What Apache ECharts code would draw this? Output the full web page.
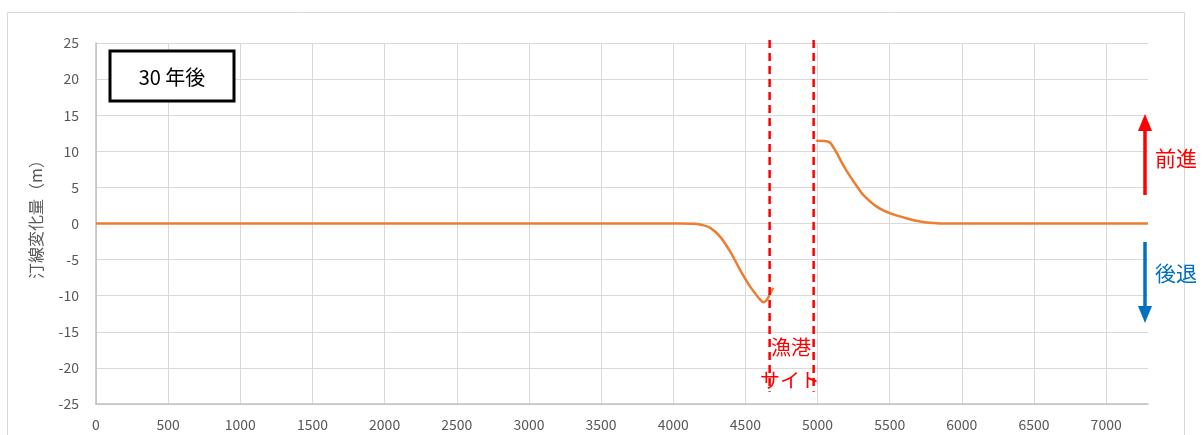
<!DOCTYPE html>
<html>
<head>
<meta charset="utf-8">
<script src="https://cdn.jsdelivr.net/npm/echarts@6/dist/echarts.min.js"></script>
<style>
  html, body { margin: 0; padding: 0; background: #ffffff; }
  #chart { width: 1202px; height: 435px; }
</style>
</head>
<body>
<div id="chart"></div>
<script>
// Shoreline change after 30 years (distance along coast in m vs. change in m).
// West side of the fishing port
const westX = [0, 4050, 4150, 4200, 4257, 4326, 4395, 4464, 4533, 4580, 4603, 4616, 4627, 4640, 4654, 4692];
const westY = [0, 0, -0.05, -0.2, -0.6, -1.85, -3.9, -6.45, -8.75, -10.0, -10.55, -10.8, -10.9, -10.75, -10.4, -8.9];
// East side of the fishing port
const eastX = [4991, 5050, 5070, 5089, 5105, 5120, 5135, 5180, 5228, 5275, 5320, 5413, 5505, 5621, 5720, 5800, 5900, 7290];
const eastY = [11.45, 11.42, 11.35, 11.15, 10.7, 10.2, 9.7, 8.0, 6.45, 5.1, 3.9, 2.3, 1.4, 0.7, 0.25, 0.08, 0, 0];

// Port site boundaries (x) and the vertical extent of their dashed markers (y)
const portBounds = [4668, 4973];
const markerTop = 25.4;
const markerBottom = -23.3;

// Axis settings
const xMin = 0, xMax = 7290, xStep = 500;
const yMin = -25, yMax = 25, yStep = 5;

const FONT = '"Noto Sans CJK JP", "Noto Sans", sans-serif';

const pairs = (xs, ys) => xs.map((x, i) => [x, ys[i]]);

const shoreStyle = {
  type: 'line',
  symbol: 'none',
  smooth: 0.3,
  z: 4,
  silent: true,
  lineStyle: { color: '#ED7D31', width: 2.5 }
};

const markerSeries = portBounds.map(x => ({
  type: 'line',
  data: [[x, markerTop], [x, markerBottom]],
  clip: false,
  symbol: 'none',
  silent: true,
  z: 5,
  lineStyle: { color: '#FF0000', width: 2.5, type: [8, 5] }
}));

const chart = echarts.init(document.getElementById('chart'), null, { renderer: 'canvas' });

chart.setOption({
  backgroundColor: '#ffffff',
  animation: false,
  textStyle: { fontFamily: FONT },
  grid: { left: 96, right: 54, top: 43, bottom: 31, containLabel: false },
  xAxis: {
    type: 'value',
    min: xMin, max: xMax, interval: xStep,
    axisLine: { onZero: false, lineStyle: { color: '#bfbfbf', width: 1.5 } },
    axisTick: { show: false },
    axisLabel: { color: '#595959', fontSize: 14, margin: 14, showMaxLabel: false, fontFamily: FONT,
                 formatter: v => String(v) },
    splitLine: { show: true, showMaxLine: false, lineStyle: { color: '#d9d9d9', width: 1 } }
  },
  yAxis: {
    type: 'value',
    min: yMin, max: yMax, interval: yStep,
    name: '汀線変化量（m）',
    nameLocation: 'middle',
    nameRotate: 90,
    nameGap: 52,
    nameTextStyle: { color: '#595959', fontSize: 16, fontFamily: FONT, padding: [0, 0, 0, 16] },
    axisLine: { show: true, lineStyle: { color: '#bfbfbf', width: 1.5 } },
    axisTick: { show: false },
    axisLabel: { color: '#595959', fontSize: 14, margin: 17, fontFamily: FONT },
    splitLine: { show: true, lineStyle: { color: '#d9d9d9', width: 1 } }
  },
  series: [
    Object.assign({ data: pairs(westX, westY) }, shoreStyle),
    Object.assign({ data: pairs(eastX, eastY) }, shoreStyle),
    ...markerSeries
  ],
  graphic: [
    // outer chart frame
    { type: 'rect', shape: { x: 7.5, y: 12.5, width: 1177, height: 440 },
      style: { fill: 'none', stroke: '#d9d9d9', lineWidth: 1 }, z: 0, silent: true },
    // title box
    { type: 'rect', shape: { x: 110, y: 51, width: 124, height: 50 },
      style: { fill: '#ffffff', stroke: '#000000', lineWidth: 3 }, z: 10 },
    { type: 'text', x: 172, y: 77, z: 11,
      style: { text: '30 年後', font: '20px ' + FONT, fill: '#000000', align: 'center', verticalAlign: 'middle' } },
    // port site label
    { type: 'text', x: 791, y: 347, z: 11,
      style: { text: '漁港', font: '20px ' + FONT, fill: '#FF0000', align: 'center', verticalAlign: 'middle' } },
    { type: 'text', x: 790, y: 380, z: 11,
      style: { text: 'サイト', font: '20px ' + FONT, fill: '#FF0000', align: 'center', verticalAlign: 'middle' } },
    // advance arrow
    { type: 'line', shape: { x1: 1145, y1: 195, x2: 1145, y2: 128 },
      style: { stroke: '#FF0000', lineWidth: 3.5 }, z: 10 },
    { type: 'polygon', shape: { points: [[1138, 131], [1152, 131], [1145, 114]] },
      style: { fill: '#FF0000' }, z: 10 },
    { type: 'text', x: 1155, y: 158, z: 11,
      style: { text: '前進', font: '21px ' + FONT, fill: '#FF0000', align: 'left', verticalAlign: 'middle' } },
    // retreat arrow
    { type: 'line', shape: { x1: 1145, y1: 242, x2: 1145, y2: 309 },
      style: { stroke: '#0070C0', lineWidth: 3.5 }, z: 10 },
    { type: 'polygon', shape: { points: [[1138, 306], [1152, 306], [1145, 323]] },
      style: { fill: '#0070C0' }, z: 10 },
    { type: 'text', x: 1155, y: 273, z: 11,
      style: { text: '後退', font: '21px ' + FONT, fill: '#0070C0', align: 'left', verticalAlign: 'middle' } }
  ]
});
</script>
</body>
</html>
